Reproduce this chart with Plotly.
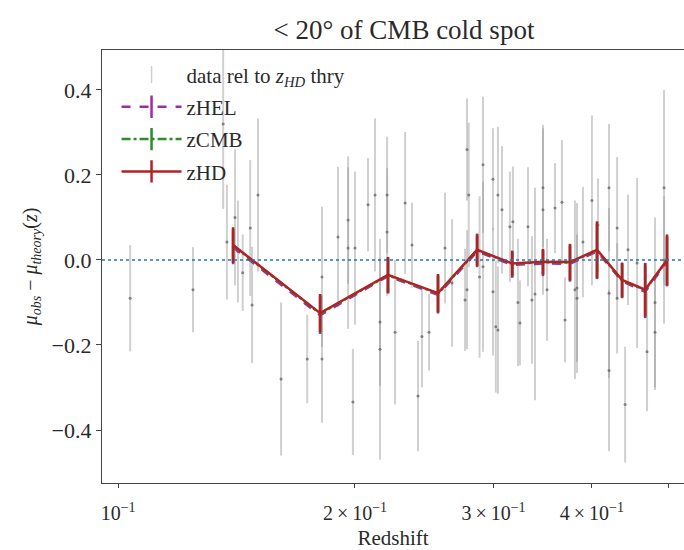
import plotly.graph_objects as go
import math

# ---------------- data ----------------
z_data = [0.1036, 0.1245, 0.1360, 0.1375, 0.1408, 0.1420, 0.1440, 0.1472, 0.1480, 0.1506,
          0.1611, 0.1739, 0.1816, 0.1816, 0.1903, 0.1960, 0.1960, 0.1988, 0.2000, 0.2078,
          0.2121, 0.2152, 0.2152, 0.2197, 0.2197, 0.2249, 0.2316, 0.2363, 0.2405, 0.2433,
          0.2484, 0.2603, 0.2657, 0.2776, 0.2790, 0.2776, 0.2760, 0.2909, 0.2909, 0.2880,
          0.2995, 0.2995, 0.3039, 0.3039, 0.3020, 0.3075, 0.3147, 0.3175, 0.3222, 0.3241,
          0.3318, 0.3357, 0.3387, 0.3467, 0.3467, 0.3508, 0.3591, 0.3665, 0.3698, 0.3807,
          0.3830, 0.3830, 0.3897, 0.4001, 0.4072, 0.4206, 0.4206, 0.4206, 0.4307, 0.4307,
          0.4409, 0.4446, 0.4566, 0.4701, 0.4812, 0.4812, 0.4941, 0.4941]
mu_data = [-0.09, -0.07, 0.32, 0.042, 0.10, 0.02, -0.03, 0.075, -0.106, 0.153,
           -0.28, -0.233, -0.233, -0.04, 0.054, 0.094, 0.028, -0.334, 0.028, 0.13,
           0.153, -0.146, -0.21, 0.153, 0.066, -0.17, 0.134, 0.035, -0.32, -0.18,
           -0.17, 0.028, -0.054, 0.26, 0.153, -0.07, -0.094, 0.224, -0.016, -0.04,
           0.19, -0.075, -0.165, 0.153, -0.157, 0.118, 0.078, 0.09, -0.10, -0.148,
           0.078, -0.094, -0.08, 0.17, 0.118, -0.07, 0.122, 0.136, -0.141, -0.07,
           -0.066, -0.09, 0.042, 0.14, 0.082, 0.17, -0.078, -0.26, 0.075, -0.09,
           -0.34, 0.024, -0.007, -0.216, -0.10, -0.17, 0.17, 0.0]
err_data = [0.125, 0.10, 0.20, 0.135, 0.16, 0.12, 0.09, 0.16, 0.137, 0.18,
            0.18, 0.104, 0.15, 0.165, 0.165, 0.15, 0.19, 0.125, 0.18, 0.11,
            0.18, 0.15, 0.26, 0.137, 0.15, 0.17, 0.167, 0.10, 0.13, 0.12,
            0.09, 0.13, 0.15, 0.12, 0.17, 0.14, 0.12, 0.16, 0.20, 0.19,
            0.12, 0.15, 0.15, 0.16, 0.155, 0.15, 0.13, 0.13, 0.15, 0.10,
            0.14, 0.15, 0.25, 0.14, 0.20, 0.12, 0.106, 0.146, 0.10, 0.21,
            0.20, 0.15, 0.13, 0.20, 0.11, 0.15, 0.20, 0.19, 0.167, 0.13,
            0.136, 0.13, 0.20, 0.14, 0.20, 0.136, 0.23, 0.15]

z_bin = [0.140, 0.1806, 0.2203, 0.255, 0.2859, 0.3168, 0.3467, 0.3752, 0.4061, 0.4370, 0.4675, 0.4984]
mu_hd = [0.035, -0.125, -0.035, -0.078, 0.024, -0.008, -0.004, -0.005, 0.024, -0.047, -0.070, 0.000]
err_hd = [0.042, 0.045, 0.042, 0.045, 0.038, 0.030, 0.030, 0.043, 0.067, 0.041, 0.063, 0.060]
mu_hel = [0.030, -0.130, -0.038, -0.082, 0.020, -0.012, -0.008, -0.009, 0.020, -0.050, -0.075, -0.004]
err_hel = [0.040, 0.044, 0.041, 0.044, 0.037, 0.030, 0.030, 0.042, 0.065, 0.040, 0.062, 0.058]
mu_cmb = [0.034, -0.126, -0.036, -0.079, 0.023, -0.009, -0.005, -0.006, 0.023, -0.048, -0.071, -0.001]
err_cmb = [0.041, 0.045, 0.042, 0.045, 0.038, 0.030, 0.030, 0.043, 0.066, 0.041, 0.063, 0.059]

x_tick_vals = [0.1, 0.2, 0.3, 0.4, 0.5]
x_tick_text = ["10<sup>−1</sup>", "2\u2009×\u200910<sup>−1</sup>", "3\u2009×\u200910<sup>−1</sup>",
               "4\u2009×\u200910<sup>−1</sup>", ""]
y_tick_vals = [-0.4, -0.2, 0.0, 0.2, 0.4]
y_tick_text = ["−0.4", "−0.2", "0.0", "0.2", "0.4"]

FONT = "Liberation Serif, Times New Roman, serif"
GRAY_BAR = "rgba(150,150,150,0.45)"
GRAY_PT = "rgba(105,105,105,0.8)"
C_HEL = "#a22aa8"
C_CMB = "#2e8b2e"
C_HD = "#b22222"
TXT = "#2a2a2a"

fig = go.Figure()

# gray data points
fig.add_trace(go.Scatter(
    x=z_data, y=mu_data, mode="markers",
    marker=dict(size=3, color=GRAY_PT),
    error_y=dict(type="data", array=err_data, color=GRAY_BAR, thickness=2, width=0),
    showlegend=False))

# binned curves
for mu, er, col, dash, w in [(mu_hel, err_hel, C_HEL, "dash", 2.5),
                             (mu_cmb, err_cmb, C_CMB, "dashdot", 2.5),
                             (mu_hd, err_hd, C_HD, "solid", 2.5)]:
    fig.add_trace(go.Scatter(
        x=z_bin, y=mu, mode="lines",
        line=dict(color=col, width=w, dash=dash),
        error_y=dict(type="data", array=er, color=col, thickness=2.5, width=0),
        showlegend=False))

# legend entries
legend_items = [
    ("data rel to <i>z</i><sub><i>HD</i></sub> thry", "markers", GRAY_BAR, "solid", 12),
    ("zHEL", "lines+markers", C_HEL, "dash", 18),
    ("zCMB", "lines+markers", C_CMB, "dashdot", 18),
    ("zHD", "lines+markers", C_HD, "solid", 18),
]
for i, (name, mode, col, dash, ms) in enumerate(legend_items):
    fig.add_trace(go.Scatter(
        x=[None], y=[None], mode=mode, name=name, legendgroup=str(i),
        line=dict(color=col, width=2.5, dash=dash),
        marker=dict(symbol="line-ns-open", size=ms, color=col,
                    line=dict(color=col, width=2.5 if i else 1.5))))

fig.add_shape(type="line", xref="paper", yref="y", x0=0, x1=1, y0=0, y1=0,
              line=dict(color="#1f77b4", width=1.5, dash="dot"))

fig.update_layout(
    width=684, height=550,
    margin=dict(l=102, r=0, t=50, b=67),
    paper_bgcolor="white", plot_bgcolor="white",
    font=dict(family=FONT, size=21, color=TXT),
    title=dict(text="&lt; 20° of CMB cold spot", x=404 / 684, xanchor="center",
               y=1 - 30 / 550, yanchor="middle", xref="container", yref="container",
               font=dict(family=FONT, size=27, color=TXT)),
    legend=dict(x=0.025, y=0.99, xanchor="left", yanchor="top",
                bgcolor="rgba(255,255,255,0)", font=dict(family=FONT, size=21, color=TXT),
                itemwidth=60, tracegroupgap=2),
    showlegend=True,
)

fig.update_xaxes(
    type="log", range=[math.log10(0.0954), math.log10(0.5238)],
    tickvals=x_tick_vals, ticktext=x_tick_text, ticks="outside", ticklen=4,
    ticklabelstandoff=8,
    tickcolor="#444", showline=True, mirror=True, linecolor="#444", linewidth=1.3,
    showgrid=False, zeroline=False,
    title=dict(text="Redshift", font=dict(family=FONT, size=21, color=TXT), standoff=8),
    tickfont=dict(family=FONT, size=20, color=TXT))

fig.update_yaxes(
    range=[-0.5247, 0.494], tickvals=y_tick_vals, ticktext=y_tick_text,
    ticks="outside", ticklen=5, tickcolor="#444", showline=True, mirror=False,
    linecolor="#444", linewidth=1.3, showgrid=False, zeroline=False,
    title=dict(text="<i>μ</i><sub><i>obs</i></sub> − <i>μ</i><sub><i>theory</i></sub>(<i>z</i>)",
               font=dict(family=FONT, size=20, color=TXT), standoff=8),
    tickfont=dict(family=FONT, size=22, color=TXT))

fig.write_html("out.html")
